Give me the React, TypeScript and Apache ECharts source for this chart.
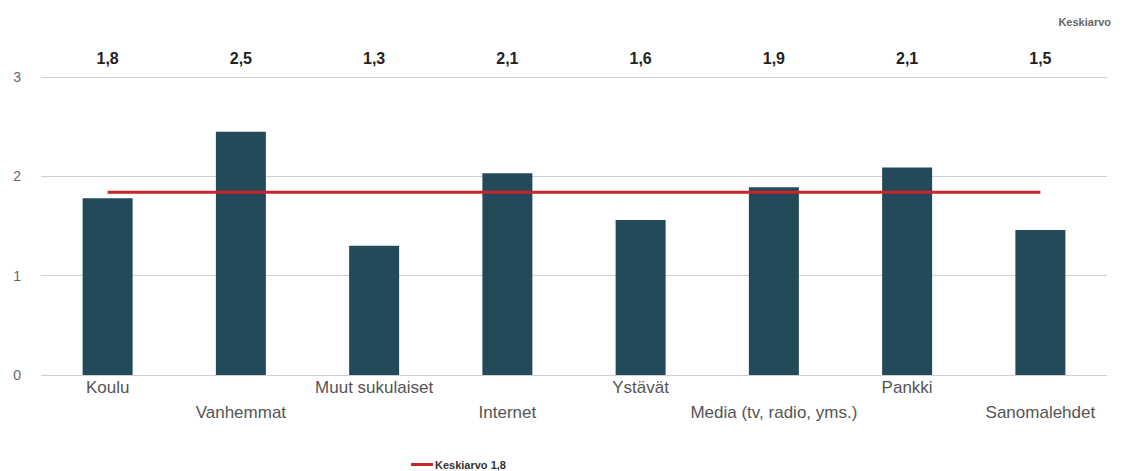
import React, { useEffect, useRef } from "react";
import * as echarts from "echarts";

const categories = [
  "Koulu",
  "Vanhemmat",
  "Muut sukulaiset",
  "Internet",
  "Ystävät",
  "Media (tv, radio, yms.)",
  "Pankki",
  "Sanomalehdet",
];
const values = [1.78, 2.45, 1.3, 2.03, 1.56, 1.89, 2.09, 1.46];
const topLabels = ["1,8", "2,5", "1,3", "2,1", "1,6", "1,9", "2,1", "1,5"];
const averageValues = [1.84, 1.84, 1.84, 1.84, 1.84, 1.84, 1.84, 1.84];
const averageName = "Keskiarvo 1,8";
const yTicks = [0, 1, 2, 3];

const FONT = "'Liberation Sans', Arial, sans-serif";

export default function App() {
  const ref = useRef<HTMLDivElement>(null);
  useEffect(() => {
    if (!ref.current) return;
    const chart = echarts.init(ref.current, null, { renderer: "svg" });
    chart.setOption({
      animation: false,
      backgroundColor: "#ffffff",
      textStyle: { fontFamily: FONT },
      title: {
        text: "Keskiarvo",
        right: 12,
        top: 11,
        textStyle: { fontSize: 11, fontWeight: "bold", color: "#666", fontFamily: FONT },
      },
      legend: {
        data: [averageName],
        left: 406,
        top: 454,
        icon: "rect",
        itemWidth: 22,
        itemHeight: 3,
        itemGap: 4,
        textStyle: { fontSize: 11, fontWeight: "bold", color: "#333", fontFamily: FONT, padding: [0, 0, 0, -3] },
      },
      grid: { left: 41, right: 21, top: 77, bottom: 96, containLabel: false },
      xAxis: [
        {
          type: "category",
          data: categories,
          position: "bottom",
          axisLine: { show: false },
          axisTick: { show: false },
          axisLabel: {
            interval: 0,
            margin: 0,
            fontSize: 17,
            color: "#555",
            fontFamily: FONT,
            lineHeight: 25,
            formatter: (v: string, i: number) => (i % 2 === 1 ? "\n" + v : v),
          },
        },
        {
          type: "category",
          data: topLabels,
          position: "top",
          axisLine: { show: false },
          axisTick: { show: false },
          axisLabel: {
            interval: 0,
            margin: 11,
            fontSize: 16,
            fontWeight: "bold",
            color: "#222",
            fontFamily: FONT,
          },
        },
      ],
      yAxis: {
        type: "value",
        min: yTicks[0],
        max: yTicks[yTicks.length - 1],
        interval: 1,
        axisLine: { show: false },
        axisTick: { show: false },
        axisLabel: { fontSize: 14, color: "#666", margin: 20, fontFamily: FONT },
        splitLine: { lineStyle: { color: "#cfcfcf", width: 1 } },
      },
      series: [
        {
          type: "bar",
          data: values,
          barWidth: 50,
          itemStyle: { color: "#234a58" },
          xAxisIndex: 0,
        },
        {
          type: "line",
          name: averageName,
          data: averageValues,
          xAxisIndex: 0,
          symbol: "none",
          lineStyle: { color: "#c8262b", width: 3 },
          itemStyle: { color: "#c8262b" },
        },
      ],
    });
    return () => chart.dispose();
  }, []);
  return (
    <div
      ref={ref}
      style={{ position: "fixed", left: 0, top: 0, width: 1128, height: 471 }}
    />
  );
}
